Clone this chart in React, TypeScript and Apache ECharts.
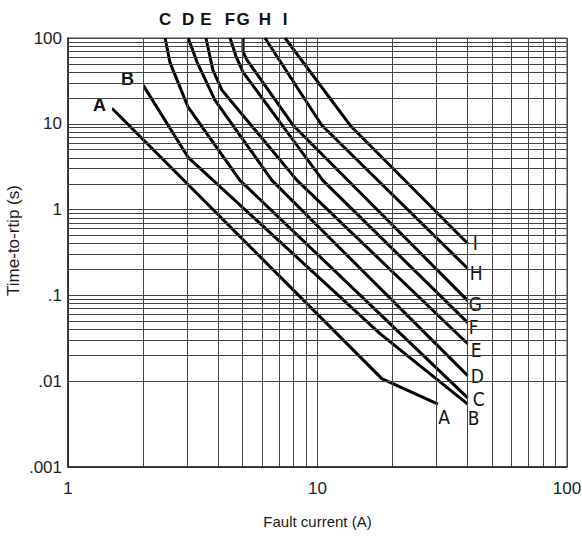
import React, { useEffect, useRef } from "react";
import * as echarts from "echarts";

// Axis ticks
const xTickValues = [1, 10, 100];
const xTickLabels = ["1", "10", "100"];
const yTickValues = [0.001, 0.01, 0.1, 1, 10, 100];
const yTickLabels = [".001", ".01", ".1", "1", "10", "100"];
const minorX = [2, 3, 4, 5, 6, 7, 8, 9, 20, 30, 40, 50, 60, 70, 80, 90];
const minorY = [
  0.002, 0.003, 0.004, 0.005, 0.006, 0.007, 0.008, 0.009,
  0.02, 0.03, 0.04, 0.05, 0.06, 0.07, 0.08, 0.09,
  0.2, 0.3, 0.4, 0.5, 0.6, 0.7, 0.8, 0.9,
  2, 3, 4, 5, 6, 7, 8, 9,
  20, 30, 40, 50, 60, 70, 80, 90,
];

// Curves: [fault current (A), time-to-trip (s)]
const curveNames = ["A", "B", "C", "D", "E", "F", "G", "H", "I"];
const curveA = [[1.5, 15.2], [18.1, 0.0107], [30.4, 0.0054]];
const curveB = [[2.0, 28.2], [3.03, 4.07], [17.8, 0.0358], [40, 0.0054]];
const curveC = [[2.45, 100], [2.56, 52.4], [2.81, 26.8], [3.03, 15.6], [4.89, 2.19], [40, 0.0064]];
const curveD = [[3.03, 100], [3.29, 52.4], [3.88, 18.9], [6.57, 2.19], [40, 0.0116]];
const curveE = [[3.57, 100], [3.81, 42.3], [4.14, 24.7], [8.28, 2.19], [40, 0.0273]];
const curveF = [[4.46, 100], [4.71, 61.6], [5.03, 40.1], [10.5, 2.19], [40, 0.0481]];
const curveG = [[5.03, 100], [5.03, 68.6], [5.22, 55.3], [7.98, 9.63], [40, 0.0869]];
const curveH = [[6.16, 100], [10.4, 9.63], [40, 0.206]];
const curveI = [[7.41, 100], [13.5, 9.63], [40, 0.403]];
const curves = [curveA, curveB, curveC, curveD, curveE, curveF, curveG, curveH, curveI];

const FONT = "'Liberation Sans', Arial, Helvetica, sans-serif";
const NARROW = "'Liberation Sans Narrow', 'Arial Narrow', 'DejaVu Sans Condensed', 'Liberation Sans', sans-serif";

const boldTop = { show: true, position: "top", distance: 10, fontSize: 17, fontWeight: "bold", color: "#111", fontFamily: FONT };
const startLabels: any[] = [
  { show: true, position: "left", distance: 0, offset: [0, -3], fontSize: 18, fontWeight: "bold", color: "#111", fontFamily: FONT, backgroundColor: "#fff", padding: [2, 6] },
  { show: true, position: "left", distance: 0, offset: [0, -6], fontSize: 18, fontWeight: "bold", color: "#111", fontFamily: FONT, backgroundColor: "#fff", padding: [2, 9] },
  boldTop, boldTop, boldTop, boldTop, boldTop, boldTop, boldTop,
];
const endBase = { show: true, fontSize: 19, color: "#111", fontFamily: NARROW };
const endLabels: any[] = [
  { ...endBase, position: "bottom", distance: 3, offset: [6, 0] },
  { ...endBase, position: "bottom", distance: 4, offset: [6, 0] },
  { ...endBase, position: "right", distance: 5, offset: [0, 1] },
  { ...endBase, position: "right", distance: 3, offset: [0, 0] },
  { ...endBase, position: "right", distance: 3, offset: [0, 6] },
  { ...endBase, position: "right", distance: 1, offset: [0, 4] },
  { ...endBase, position: "right", distance: 1, offset: [0, 3] },
  { ...endBase, position: "right", distance: 2, offset: [0, 5] },
  { ...endBase, position: "right", distance: 5, offset: [0, 0] },
];

function tickLabel(values: number[], labels: string[], v: number) {
  const k = Math.round(Math.log10(v));
  const i = values.findIndex((t) => Math.round(Math.log10(t)) === k);
  return i >= 0 ? labels[i] : "";
}

export default function App() {
  const ref = useRef<HTMLDivElement>(null);
  useEffect(() => {
    if (!ref.current) return;
    const chart = echarts.init(ref.current, null, { renderer: "svg" });
    const gridLineColor = "#444";
    const series: any[] = [
      {
        type: "line",
        data: [],
        z: 1,
        silent: true,
        markLine: {
          silent: true,
          symbol: ["none", "none"],
          label: { show: false },
          emphasis: { disabled: true },
          lineStyle: { color: gridLineColor, width: 1, type: "solid" },
          data: [
            ...minorX.map((v) => ({ xAxis: v })),
            ...minorY.map((v) => ({ yAxis: v })),
          ],
        },
      },
    ];
    curves.forEach((pts, ci) => {
      series.push({
        type: "line",
        name: curveNames[ci],
        z: 3,
        clip: false,
        symbol: "circle",
        symbolSize: 0,
        showSymbol: true,
        silent: true,
        lineStyle: { color: "#000", width: 3 },
        itemStyle: { color: "#000" },
        label: { show: false },
        data: pts.map((p, i) => {
          if (i === 0) return { value: p, label: { ...startLabels[ci], formatter: curveNames[ci] } };
          if (i === pts.length - 1) return { value: p, label: { ...endLabels[ci], formatter: curveNames[ci] } };
          return { value: p };
        }),
      });
    });
    chart.setOption({
      animation: false,
      backgroundColor: "#fff",
      grid: {
        left: 68, top: 38, width: 499, height: 429,
        containLabel: false, outerBoundsMode: "none",
        show: true, borderColor: "#444", borderWidth: 1,
      },
      xAxis: {
        type: "log",
        logBase: 10,
        min: xTickValues[0],
        max: xTickValues[xTickValues.length - 1],
        splitNumber: 2,
        name: "Fault current (A)",
        nameLocation: "middle",
        nameGap: 47,
        nameMoveOverlap: false,
        nameTextStyle: { fontSize: 15, color: "#1a1a1a", fontFamily: FONT },
        axisLine: { show: true, lineStyle: { color: "#222", width: 1.5 } },
        axisTick: { show: false },
        axisLabel: {
          margin: 13,
          fontSize: 17,
          color: "#222",
          fontFamily: FONT,
          formatter: (v: number) => tickLabel(xTickValues, xTickLabels, v),
        },
        splitLine: { show: true, lineStyle: { color: gridLineColor, width: 1 } },
      },
      yAxis: {
        type: "log",
        logBase: 10,
        min: yTickValues[0],
        max: yTickValues[yTickValues.length - 1],
        splitNumber: 5,
        name: "Time-to-rtip (s)",
        nameLocation: "middle",
        nameGap: 46,
        nameMoveOverlap: false,
        nameTextStyle: { fontSize: 17, color: "#1a1a1a", fontFamily: FONT, padding: [0, 0, 0, 24] },
        axisLine: { show: true, lineStyle: { color: "#222", width: 1.5 } },
        axisTick: { show: false },
        axisLabel: {
          margin: 6,
          fontSize: 17,
          color: "#222",
          fontFamily: FONT,
          formatter: (v: number) => tickLabel(yTickValues, yTickLabels, v),
        },
        splitLine: { show: true, lineStyle: { color: gridLineColor, width: 1 } },
      },
      series,
    });
    return () => chart.dispose();
  }, []);
  return (
    <div
      ref={ref}
      style={{ position: "fixed", left: 0, top: 0, width: 582, height: 537, background: "#fff" }}
    />
  );
}
